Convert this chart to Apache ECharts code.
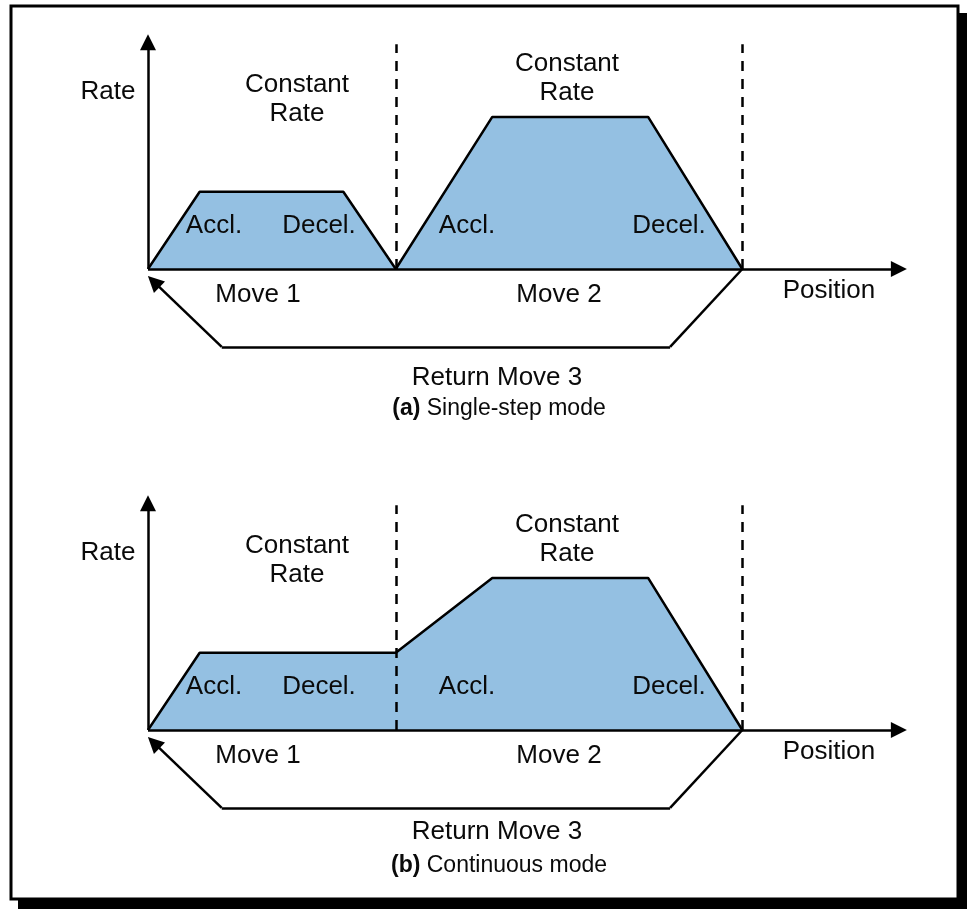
<!DOCTYPE html>
<html lang="en">
<head>
	<meta charset="UTF-8">
	<title>Single-step and continuous mode</title>
	<script src="https://cdn.jsdelivr.net/npm/echarts@6/dist/echarts.min.js"></script>
	<style>
		html, body { margin: 0; padding: 0; background: #fff; }
	</style>
</head>
<body>
	<div id="chart" style="width:967px; height:909px;"></div>
	<script>
	// position / rate points of the profile, panel (a) and (b)
	var posA = [0, 6.8, 25.7, 32.6, 45.3, 65.8, 78.2];
	var rateA = [0, 33, 33, 0, 65, 65, 0];
	var posB = [0, 6.8, 32.6, 45.3, 65.8, 78.2];
	var rateB = [0, 33, 33, 65, 65, 0];
	// where move 1 and move 2 end (dashed lines)
	var moveEnds = [32.6, 78.2];
	var dashTop = 96;
	// return move 3 path, below the axis
	var returnPos = [78.2, 68.7, 9.7, 0.75];
	var returnRate = [0, -33.3, -33.3, -5.4];
	var axisEnd = [98.8, 96.9];

	var font = '"Liberation Sans", Arial, sans-serif';
	var blue = '#94c0e2';

	function zip(xs, ys) {
		var res = [];
		for (var i = 0; i < xs.length; i++) res.push([xs[i], ys[i]]);
		return res;
	}

	function panelSeries(idx, xs, ys) {
		var seg = function (a, b, arrow) {
			return [{coord: a, symbol: 'none'}, {coord: b, symbol: arrow ? 'triangle' : 'none'}];
		};
		var ret = zip(returnPos, returnRate);
		return [
			{
				type: 'line',
				xAxisIndex: idx, yAxisIndex: idx,
				data: zip(xs, ys),
				symbol: 'none',
				lineStyle: {color: '#000', width: 2.5},
				areaStyle: {color: blue, opacity: 1},
				z: 2,
				markLine: {
					silent: true,
					symbol: 'none',
					label: {show: false},
					lineStyle: {color: '#000', width: 2.5, type: [10, 8]},
					data: moveEnds.map(function (x) { return seg([x, 0], [x, dashTop]); })
				}
			},
			{
				// axes and return path
				type: 'line',
				xAxisIndex: idx, yAxisIndex: idx,
				data: [],
				markLine: {
					silent: true,
					label: {show: false},
					symbolSize: [16, 16],
					lineStyle: {color: '#000', width: 2.5, type: 'solid'},
					data: [
						seg([0, 0], [axisEnd[0], 0], true),
						seg([0, 0], [0, axisEnd[1]], true),
						seg(ret[0], ret[1]),
						seg(ret[1], ret[2]),
						seg(ret[2], ret[3], true)
					]
				},
				z: 3
			}
		];
	}

	function txt(text, x, y, size, extra) {
		var st = {
			text: text, x: x, y: y,
			font: size + 'px ' + font,
			fill: '#0a0a0a',
			textAlign: 'center',
			textVerticalAlign: 'middle',
			lineHeight: 29
		};
		for (var k in extra) st[k] = extra[k];
		return {type: 'text', z: 10, style: st};
	}

	function labels(dy, retY, capY, cap, capText) {
		return [
			txt('Rate', 108, 92 + dy, 26),
			txt('Constant\nRate', 297, 99 + dy, 26),
			txt('Constant\nRate', 567, 78.5 + dy, 26),
			txt('Accl.', 214, 226 + dy, 26),
			txt('Decel.', 319, 226 + dy, 26),
			txt('Accl.', 467, 226 + dy, 26),
			txt('Decel.', 669, 226 + dy, 26),
			txt('Move 1', 258, 295 + dy, 26),
			txt('Move 2', 559, 295 + dy, 26),
			txt('Position', 829, 291 + dy, 26),
			txt('Return Move 3', 497, retY, 26),
			txt('{b|' + cap + '} ' + capText, 499, capY, 23, {
				rich: {b: {fontWeight: 'bold', fontSize: 23, fontFamily: font, fill: '#0a0a0a'}}
			})
		];
	}

	var myChart = echarts.init(document.getElementById('chart'));
	var option = {
		animation: false,
		backgroundColor: '#fff',
		grid: [
			{left: 148, right: 59, top: 35, height: 327.6},
			{left: 148, right: 59, top: 496, height: 327.6}
		],
		xAxis: [
			{type: 'value', gridIndex: 0, min: 0, max: 100, show: false},
			{type: 'value', gridIndex: 1, min: 0, max: 100, show: false}
		],
		yAxis: [
			{type: 'value', gridIndex: 0, min: -40, max: 100, show: false},
			{type: 'value', gridIndex: 1, min: -40, max: 100, show: false}
		],
		graphic: [
			// frame with drop shadow
			{type: 'rect', z: -2, shape: {x: 18, y: 13, width: 949, height: 896}, style: {fill: '#000'}},
			{type: 'rect', z: -1, shape: {x: 11, y: 6, width: 947, height: 893}, style: {fill: '#fff', stroke: '#000', lineWidth: 3}}
		].concat(labels(0, 378, 409, '(a)', 'Single-step mode'))
		 .concat(labels(461, 832, 866, '(b)', 'Continuous mode')),
		series: panelSeries(0, posA, rateA).concat(panelSeries(1, posB, rateB))
	};
	myChart.setOption(option);
	</script>
</body>
</html>
